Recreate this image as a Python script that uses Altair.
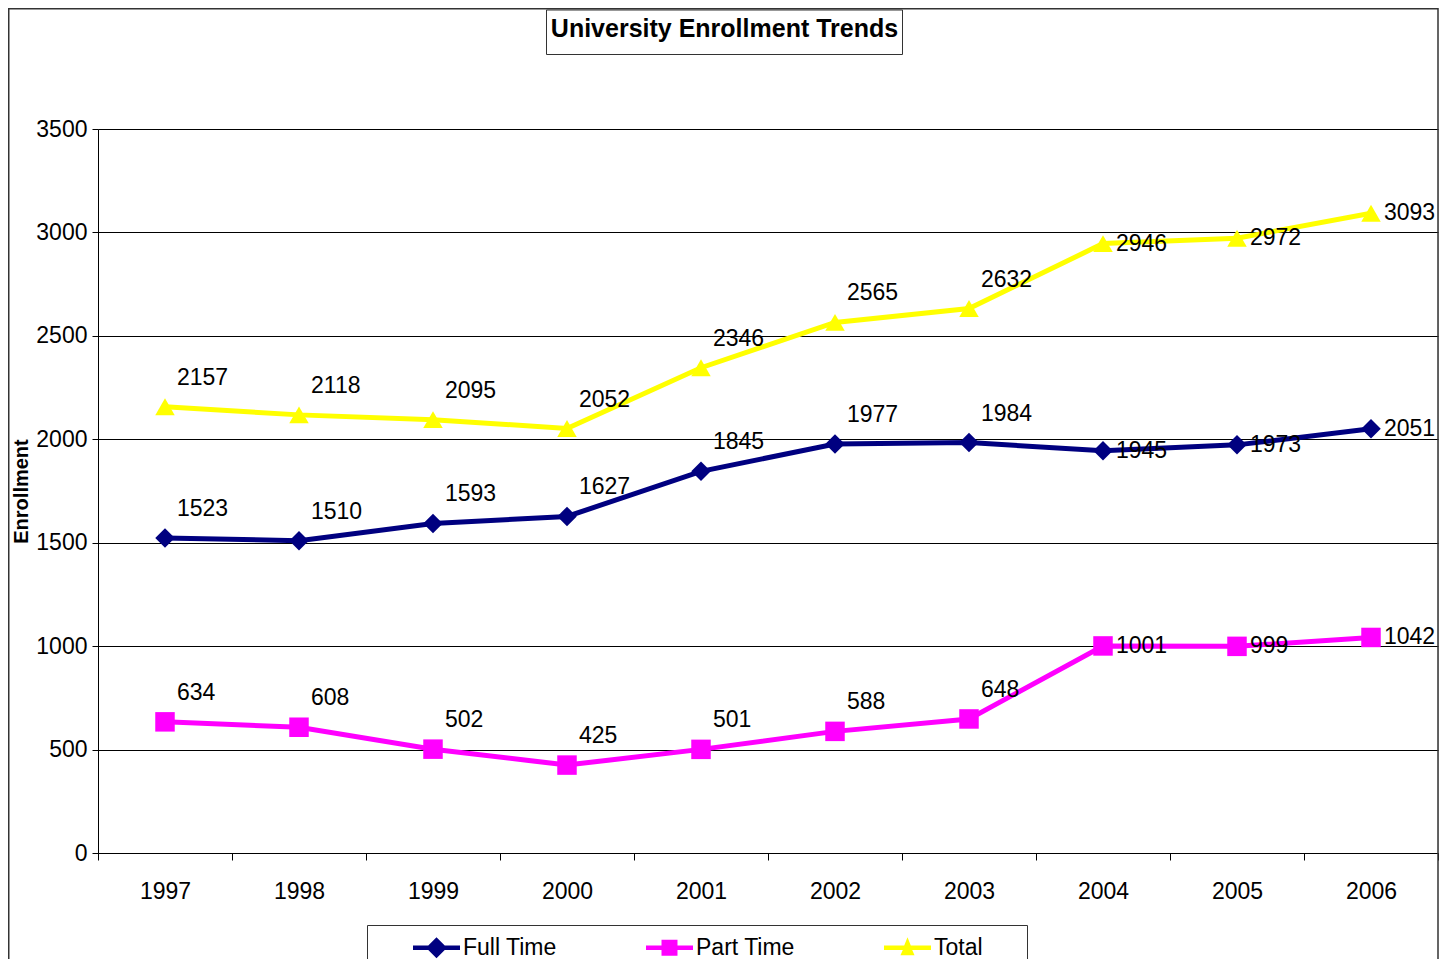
import altair as alt
import pandas as pd

years = ["1997", "1998", "1999", "2000", "2001", "2002", "2003", "2004", "2005", "2006"]
series_names = ["Full Time", "Part Time", "Total"]
full_time = [1523, 1510, 1593, 1627, 1845, 1977, 1984, 1945, 1973, 2051]
part_time = [634, 608, 502, 425, 501, 588, 648, 1001, 999, 1042]
total = [2157, 2118, 2095, 2052, 2346, 2565, 2632, 2946, 2972, 3093]
y_ticks = [0, 500, 1000, 1500, 2000, 2500, 3000, 3500]
colors = ["#000080", "#FF00FF", "#FFFF00"]
shapes = ["diamond", "square", "triangle-up"]
chart_title = "University Enrollment Trends"

rows = []
for name, vals in zip(series_names, [full_time, part_time, total]):
    for yr, v in zip(years, vals):
        rows.append({"year": yr, "series": name, "value": v})
df = pd.DataFrame(rows)

FONT = "Liberation Sans"

# legend symbol paths: thick line + marker
p_diamond = "M-1,-0.1H-0.35L0,-0.45L0.35,-0.1H1V0.1H0.35L0,0.45L-0.35,0.1H-1Z"
p_square = "M-1,-0.1H-0.34V-0.34H0.34V-0.1H1V0.1H0.34V0.34H-0.34V0.1H-1Z"
p_tri = "M-1,-0.1H-0.14L0,-0.45L0.14,-0.1H1V0.1H0.2L0.3,0.32H-0.3L-0.2,0.1H-1Z"
legend_shapes = [p_diamond, p_square, p_tri]

x_enc = alt.X("year:O", sort=years,
              scale=alt.Scale(type="band", paddingInner=0, paddingOuter=0),
              axis=alt.Axis(title=None, tickBand="extent", labelAngle=0, labelFont=FONT,
                            labelFontSize=23, labelColor="black", labelPadding=20,
                            tickSize=7, tickColor="black", domainColor="black",
                            domainWidth=1, tickWidth=1, grid=False))
y_enc = alt.Y("value:Q", scale=alt.Scale(domain=[0, 3500], nice=False, zero=True),
              axis=alt.Axis(title="Enrollment", values=y_ticks, format="d", labelFont=FONT,
                            labelFontSize=23, labelColor="black", labelPadding=5,
                            tickSize=6, tickColor="black", domainColor="black",
                            gridColor="black", gridWidth=1, grid=True,
                            titleFont=FONT, titleFontSize=20, titleFontWeight="bold",
                            titleColor="black", titleAngle=270, titleX=-77, titleY=362,
                            titleAlign="center", titleBaseline="middle"))

base = alt.Chart(df)

layers = []
for name, col, shp in zip(series_names, colors, shapes):
    sub = base.transform_filter(alt.datum.series == name)
    layers.append(sub.mark_line(strokeWidth=5, color=col).encode(x=x_enc, y=y_enc))
for name, col, shp in zip(series_names, colors, shapes):
    sub = base.transform_filter(alt.datum.series == name)
    layers.append(sub.mark_point(filled=True, opacity=1, size=380, color=col, shape=shp)
                  .encode(x=x_enc, y=y_enc))

labels_early = base.transform_filter("toNumber(datum.year) <= 2003").mark_text(
    align="left", baseline="middle", dx=12, dy=-29, font=FONT, fontSize=23, color="black"
).encode(x=x_enc, y=y_enc, text=alt.Text("value:Q", format="d"))
labels_late = base.transform_filter("toNumber(datum.year) >= 2004").mark_text(
    align="left", baseline="middle", dx=13, dy=0, font=FONT, fontSize=23, color="black"
).encode(x=x_enc, y=y_enc, text=alt.Text("value:Q", format="d"))
layers += [labels_early, labels_late]

# legend-only layer (no rows drawn)
legend_layer = base.transform_filter("false").mark_point(filled=True, opacity=1, size=2209).encode(
    x=x_enc, y=y_enc,
    color=alt.Color("series:N", scale=alt.Scale(domain=series_names, range=colors),
                    sort=series_names,
                    legend=alt.Legend(title=None, orient="none", legendX=315, legendY=795,
                                      direction="horizontal", labelFont=FONT, labelFontSize=23,
                                      labelColor="black", labelOffset=3, columnPadding=89,
                                      symbolSize=2209, symbolStrokeWidth=0, padding=0)),
    shape=alt.Shape("series:N", scale=alt.Scale(domain=series_names, range=legend_shapes),
                    sort=series_names),
)
layers.append(legend_layer)

one = alt.Data(values=[{"k": 1}])
outer_box = alt.Chart(one).mark_rect(fillOpacity=0, stroke="#333333", strokeWidth=1.5).encode(
    x=alt.value(-89.25), x2=alt.value(1340), y=alt.value(-120.25), y2=alt.value(850))
title_box = alt.Chart(one).mark_rect(fillOpacity=0, stroke="#333333", strokeWidth=1).encode(
    x=alt.value(448.5), x2=alt.value(804.5), y=alt.value(-119), y2=alt.value(-74.5))
legend_box = alt.Chart(one).mark_rect(fillOpacity=0, stroke="#333333", strokeWidth=1).encode(
    x=alt.value(269.5), x2=alt.value(929.5), y=alt.value(796.5), y2=alt.value(836.5))
title_text = alt.Chart(one).mark_text(
    text=chart_title, font=FONT, fontSize=25, fontWeight="bold", color="black",
    align="center", baseline="alphabetic").encode(x=alt.value(626.5), y=alt.value(-92))
layers += [outer_box, title_box, legend_box, title_text]

chart = alt.layer(*layers).properties(
    width=1340, height=724,
    autosize=alt.AutoSizeParams(type="none"),
    padding={"left": 90, "top": 121, "right": 5, "bottom": 106},
).configure_view(stroke=None).configure(background="white")

chart.save("out.html", embed_options={"renderer": "svg", "actions": False})
